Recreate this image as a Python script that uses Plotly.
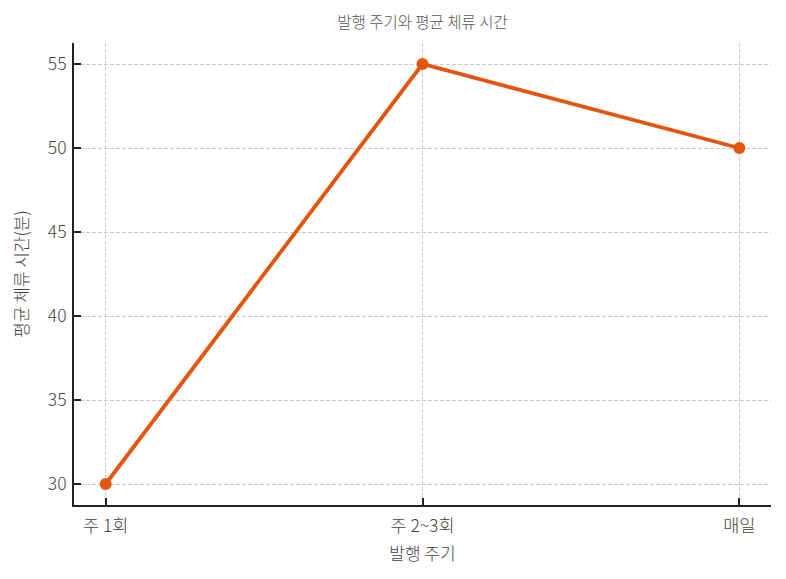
import plotly.graph_objects as go

categories = ["주 1회", "주 2~3회", "매일"]
values = [30, 55, 50]
y_ticks = [30, 35, 40, 45, 50, 55]

font_family = "Noto Sans CJK KR"
color = "#E4560F"

fig = go.Figure()
fig.add_trace(go.Scatter(
    x=categories, y=values, mode="lines+markers",
    line=dict(color=color, width=3.8),
    marker=dict(color=color, size=12),
    showlegend=False,
))

fig.update_layout(
    width=786, height=579,
    margin=dict(l=74, r=15, t=43, b=74, autoexpand=False),
    paper_bgcolor="white", plot_bgcolor="white",
    font=dict(family=font_family, size=17, color="#444", weight=300),
    title=dict(text="발행 주기와 평균 체류 시간", x=0.5, xanchor="center", xref="paper",
               y=1 - 23 / 579, yanchor="middle", yref="container",
               font=dict(size=15.5, color="#555", weight=300)),
)
fig.update_xaxes(
    type="category", range=[-0.1, 2.1],
    showline=True, linecolor="#222", linewidth=1.8, mirror=False,
    ticks="inside", ticklen=7, tickwidth=1.8, tickcolor="#222",
    showgrid=True, gridcolor="#cccccc", griddash="4px,2px", gridwidth=1,
    zeroline=False, automargin=False, ticklabelstandoff=4,
    title=dict(text="발행 주기", standoff=12, font=dict(size=17, color="#444", weight=300)),
    tickfont=dict(size=17.5, color="#444", weight=300),
)
fig.update_yaxes(
    range=[28.75, 56.25], tickmode="array", tickvals=y_ticks,
    showline=True, linecolor="#222", linewidth=1.8, mirror=False,
    ticks="inside", ticklen=7, tickwidth=1.8, tickcolor="#222",
    showgrid=True, gridcolor="#cccccc", griddash="4px,2px", gridwidth=1,
    zeroline=False, automargin=False, ticklabelstandoff=2,
    title=dict(text="평균 체류 시간(분)", standoff=15, font=dict(size=17, color="#444", weight=300)),
    tickfont=dict(size=17.5, color="#444", weight=300),
)

fig.write_html("out.html", config={"displayModeBar": False},
               post_script="document.body.style.margin='0';")
